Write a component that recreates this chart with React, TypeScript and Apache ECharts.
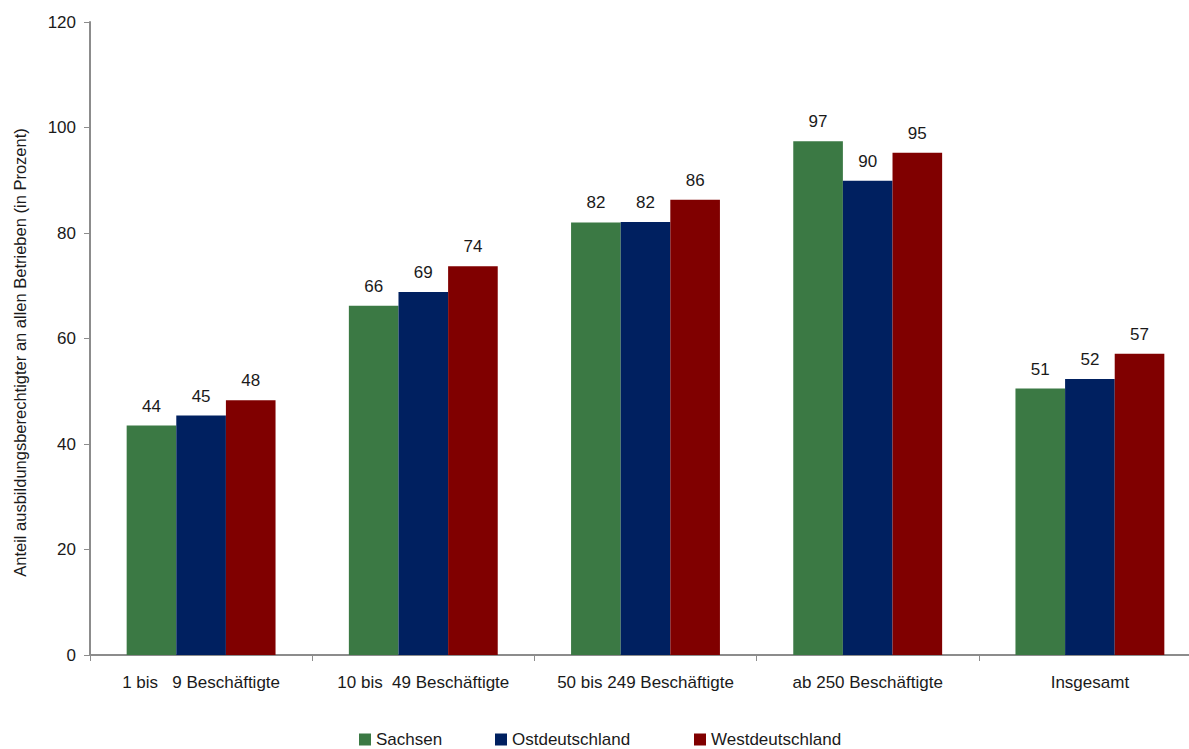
import React, { useEffect, useRef } from "react";
import * as echarts from "echarts";

const categories = ["1 bis   9 Beschäftigte", "10 bis  49 Beschäftigte", "50 bis 249 Beschäftigte", "ab 250 Beschäftigte", "Insgesamt"];
const seriesNames = ["Sachsen", "Ostdeutschland", "Westdeutschland"];
const sachsen = [43.5, 66.2, 82.0, 97.4, 50.5];
const ostdeutschland = [45.4, 68.8, 82.1, 89.9, 52.3];
const westdeutschland = [48.3, 73.7, 86.3, 95.2, 57.1];
const colors = ["#3B7944", "#002060", "#800000"];
const yTicks = { min: 0, max: 120, interval: 20 };

const FONT = "'Liberation Sans', Arial, sans-serif";
const legendLefts = [359, 495, 694];

export default function App() {
  const ref = useRef<HTMLDivElement>(null);
  useEffect(() => {
    const chart = echarts.init(ref.current!, null, { renderer: "svg" });
    const data = [sachsen, ostdeutschland, westdeutschland];
    chart.setOption({
      animation: false,
      textStyle: { fontFamily: FONT },
      grid: { left: 90, top: 22, bottom: 94, right: -12, containLabel: false, outerBoundsMode: "none" },
      legend: seriesNames.map((name, i) => ({
        bottom: 1,
        left: legendLefts[i],
        padding: 0,
        icon: "rect",
        itemWidth: 12,
        itemHeight: 12,
        itemGap: 5,
        textStyle: { fontSize: 17, color: "#1a1a1a", fontFamily: FONT },
        data: [name],
      })),
      xAxis: {
        type: "category",
        data: categories,
        axisLine: { lineStyle: { color: "#8c8c8c", width: 2 } },
        axisTick: { show: true, length: 6, lineStyle: { color: "#8c8c8c" } },
        axisLabel: { interval: 0, hideOverlap: false, fontSize: 17, color: "#1a1a1a", margin: 19, fontFamily: FONT },
      },
      yAxis: {
        type: "value",
        min: yTicks.min,
        max: yTicks.max,
        interval: yTicks.interval,
        name: "Anteil ausbildungsberechtigter an allen Betrieben (in Prozent)",
        nameLocation: "middle",
        nameGap: 62,
        nameTextStyle: { fontSize: 16.5, color: "#1a1a1a", fontFamily: FONT, padding: [0, 28, 0, 0] },
        axisLine: { show: true, lineStyle: { color: "#8c8c8c", width: 2 } },
        axisTick: { show: true, length: 6, lineStyle: { color: "#8c8c8c" } },
        splitLine: { show: false },
        axisLabel: { fontSize: 17, color: "#1a1a1a", margin: 14, fontFamily: FONT },
      },
      series: seriesNames.map((name, i) => ({
        name,
        type: "bar",
        data: data[i],
        barGap: "0%",
        barCategoryGap: "33%",
        itemStyle: { color: colors[i] },
        label: {
          show: true,
          position: "top",
          distance: 11,
          fontSize: 17,
          color: "#1a1a1a",
          fontFamily: FONT,
          formatter: (p: any) => String(Math.round(p.value)),
        },
      })),
    });
    return () => chart.dispose();
  }, []);
  return <div ref={ref} style={{ position: "fixed", left: 0, top: 0, width: 1189, height: 749, background: "#fff" }} />;
}
